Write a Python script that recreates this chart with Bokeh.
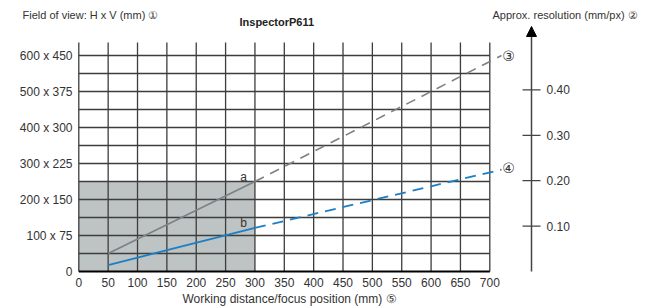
from bokeh.plotting import figure
from bokeh.models import Range1d, LinearAxis, FixedTicker, Label, Arrow, NormalHead, Title
from bokeh.core.properties import value
from bokeh.embed import file_html
from bokeh.resources import INLINE

# ---- data ----
x_ticks = [0, 50, 100, 150, 200, 250, 300, 350, 400, 450, 500, 550, 600, 650, 700]
fov_ticks = [0, 100, 200, 300, 400, 500, 600]
fov_labels = ["0", "100 x 75", "200 x 150", "300 x 225", "400 x 300", "500 x 375", "600 x 450"]
fov_grid = [50, 100, 150, 200, 250, 300, 350, 400, 450, 500, 550, 600]
res_ticks = [0.10, 0.20, 0.30, 0.40]
res_labels = ["0.10", "0.20", "0.30", "0.40"]

# line a (field of view, grey): solid part and dashed extension
a_solid_x = [50, 300]
a_solid_y = [50, 250]
a_dash_x = [300, 720]
a_dash_y = [250, 600]
# line b (resolution, blue)
b_solid_x = [50, 300]
b_solid_y = [18, 121]
b_dash_x = [300, 720]
b_dash_y = [121, 283]

# shaded region
shade_x = [0, 300]
shade_y = [0, 250]

W, H = 654, 308
FB = 277                     # frame bottom (px)
MB = H - FB
Y0 = 271.0                   # pixel of the zero line
X0 = 78.3                    # pixel of x = 0
XS = 411 / 700.0             # px per mm
YS = 0.36                    # px per H unit
RS = 454.0                   # px per (mm/px)

FONT = "Liberation Sans"
TXT = "#333333"
GRID = "#3d3d3d"

def dx(xp):
    return (xp - X0) / XS

def dy(yp):
    return (Y0 - yp) / YS

def dr(yp):
    return (Y0 - yp) / RS

p = figure(width=W, height=H, output_backend="svg", toolbar_location=None,
           x_range=Range1d(dx(0), dx(W)), y_range=Range1d(dy(FB), dy(0)),
           min_border_left=0, min_border_right=0, min_border_top=0, min_border_bottom=MB,
           x_axis_type=None, y_axis_type=None)
p.outline_line_color = None
p.grid.visible = False
p.extra_y_ranges = {"res": Range1d(dr(FB), dr(0))}

# shaded area
p.quad(left=shade_x[0], right=shade_x[1], bottom=shade_y[0], top=shade_y[1],
       fill_color="#bec3c3", line_color=None)

# grid
top_grid = dy(42)
p.segment(x0=x_ticks, x1=x_ticks, y0=[0] * len(x_ticks), y1=[top_grid] * len(x_ticks),
          line_color=GRID, line_width=1.3)
p.segment(x0=[0] * len(fov_grid), x1=[700] * len(fov_grid), y0=fov_grid, y1=fov_grid,
          line_color=GRID, line_width=1.3)
# x axis base line
p.segment(x0=[x_ticks[0]], x1=[x_ticks[-1]], y0=[0], y1=[0], line_color="black", line_width=2.2)

# lines
p.line(a_solid_x, a_solid_y, line_color="#7c8185", line_width=1.6)
p.line(a_dash_x, a_dash_y, line_color="#7c8185", line_width=1.6, line_dash="10 7")
p.line(b_solid_x, b_solid_y, line_color="#1b7fc6", line_width=1.8)
p.line(b_dash_x, b_dash_y, line_color="#1b7fc6", line_width=1.8, line_dash="11 7")

# bottom axis (labels)
xa = LinearAxis(ticker=FixedTicker(ticks=x_ticks), bounds=(0, 700))
xa.axis_line_color = None
xa.major_tick_line_color = None
xa.minor_tick_line_color = None
xa.major_tick_in = 0
xa.major_tick_out = 0
xa.minor_tick_in = 0
xa.minor_tick_out = 0
xa.major_label_standoff = 0
xa.major_label_text_font = FONT
xa.major_label_text_font_size = "12px"
xa.major_label_text_color = TXT
p.add_layout(xa, "below")

# left axis labels (field of view)
p.text(x=[dx(72)] * len(fov_ticks), y=fov_ticks, text=fov_labels,
       text_font=value(FONT), text_font_size="12px", text_color=TXT,
       text_align="right", text_baseline="middle")

# right axis (resolution), offset from the grid
rx = dx(531)
p.segment(x0=[rx], x1=[rx], y0=[0], y1=[dr(30)], y_range_name="res",
          line_color="#444444", line_width=1.5)
p.segment(x0=[dx(522)] * len(res_ticks), x1=[dx(540)] * len(res_ticks),
          y0=res_ticks, y1=res_ticks, y_range_name="res",
          line_color="#444444", line_width=1.3)
p.text(x=[dx(546)] * len(res_ticks), y=res_ticks, text=res_labels, y_range_name="res",
       text_font=value(FONT), text_font_size="12px", text_color=TXT,
       text_align="left", text_baseline="middle")
p.add_layout(Arrow(end=NormalHead(size=10, fill_color="black", line_color="black"),
                   x_start=rx, x_end=rx, y_start=dr(36), y_end=dr(26),
                   y_range_name="res", line_color="black", line_width=1.5))

def lab(text, xp, yp, size="11px", align="left", style="normal", font=FONT, color=TXT):
    p.add_layout(Label(x=dx(xp), y=dy(yp), text=text, text_font=font, text_font_size=size,
                       text_align=align, text_baseline="middle", text_font_style=style,
                       text_color=color))

lab("Field of view: H x V (mm)  \u2460", 22, 14)
lab("InspectorP611", 239, 21, style="bold", color="#222222")
lab("Approx. resolution (mm/px) \u2461", 492, 14)
lab("\u2462", 508, 55, size="14px", align="center", font="DejaVu Sans")
lab("\u2463", 508, 167, size="14px", align="center", font="DejaVu Sans")
lab("a", 243, 176, size="12px", align="center")
lab("b", 243, 222, size="12px", align="center")

p.add_layout(Title(text="Working distance/focus position (mm) \u2464", align="left", offset=182,
                   text_font=FONT, text_font_size="12px", text_font_style="normal",
                   text_color=TXT, standoff=1), "below")

open("out.html", "w").write(file_html(p, INLINE))
